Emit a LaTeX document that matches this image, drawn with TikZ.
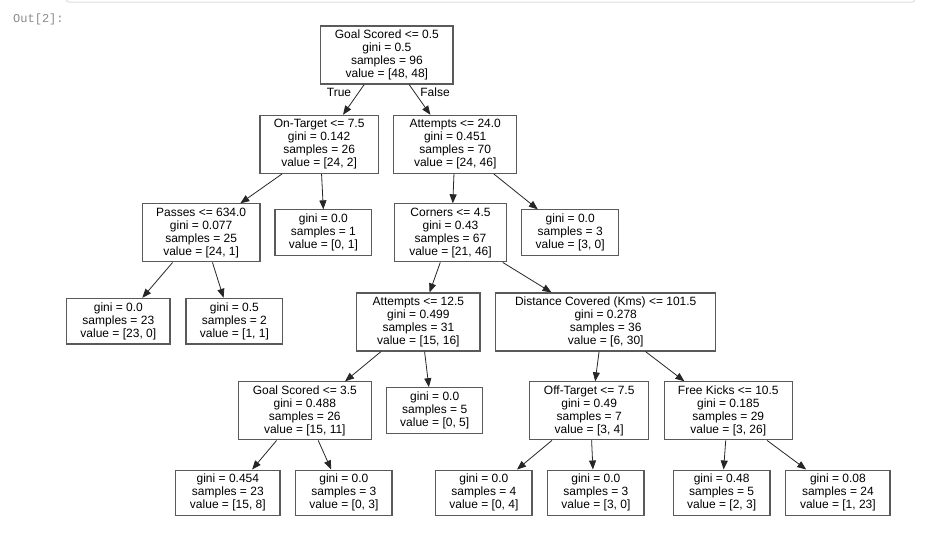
\documentclass[tikz,border=0pt]{standalone}
\usepackage{fontspec}
\setmainfont{Liberation Sans}
\newfontfamily\promptfont{Liberation Mono}
\usetikzlibrary{calc,arrows.meta}
\definecolor{boxgray}{RGB}{90,90,90}
\definecolor{promptgray}{RGB}{140,140,140}
\definecolor{cellgray}{RGB}{222,222,222}
\begin{document}
\begin{tikzpicture}[x=1pt,y=-1pt,
  box/.style={draw=boxgray, line width=1.1pt, inner sep=0pt, align=center,
    font=\fontsize{12}{13}\selectfont, text=black},
  split/.style={box, minimum height=58pt},
  leaf/.style={box, minimum height=45.6pt},
  edge/.style={draw=black!85, line width=0.8pt, -{Triangle[length=9pt,width=7pt]}},
  lab/.style={inner sep=0pt, font=\fontsize{12}{13}\selectfont}]
\useasboundingbox (0,0) rectangle (925,550);
\fill[white] (0,0) rectangle (925,550);
% cell border at the top
\draw[cellgray, line width=1pt, rounded corners=3pt] (66,-20) rectangle (915,2);
\node[anchor=west, inner sep=0pt, text=promptgray, font=\promptfont\fontsize{12}{14}\selectfont] (prompt) at (13,19) {Out[2]:};

% nodes
\node[split, minimum width=132.3pt] (root) at (386.85,55) {Goal Scored <= 0.5\\gini = 0.5\\samples = 96\\value = [48, 48]};
\node[split, minimum width=118.3pt] (ont) at (319.15,144.3) {On-Target <= 7.5\\gini = 0.142\\samples = 26\\value = [24, 2]};
\node[split, minimum width=123pt] (att24) at (455.2,144.3) {Attempts <= 24.0\\gini = 0.451\\samples = 70\\value = [24, 46]};
\node[split, minimum width=117.7pt] (passes) at (201.15,232.85) {Passes <= 634.0\\gini = 0.077\\samples = 25\\value = [24, 1]};
\node[leaf, minimum width=96.7pt] (l1) at (323.35,232.7) {gini = 0.0\\samples = 1\\value = [0, 1]};
\node[split, minimum width=112.4pt] (corners) at (450.5,232.85) {Corners <= 4.5\\gini = 0.43\\samples = 67\\value = [21, 46]};
\node[leaf, minimum width=97pt] (l3a) at (570.2,232.7) {gini = 0.0\\samples = 3\\value = [3, 0]};
\node[leaf, minimum width=103.3pt] (l23) at (118.35,321.15) {gini = 0.0\\samples = 23\\value = [23, 0]};
\node[leaf, minimum width=96.7pt] (l2) at (234.35,321.15) {gini = 0.5\\samples = 2\\value = [1, 1]};
\node[split, minimum width=123.3pt] (att12) at (418.35,322) {Attempts <= 12.5\\gini = 0.499\\samples = 31\\value = [15, 16]};
\node[split, minimum width=220pt] (dist) at (605.7,322) {Distance Covered (Kms) <= 101.5\\gini = 0.278\\samples = 36\\value = [6, 30]};
\node[split, minimum width=133pt] (gs35) at (304.8,410.85) {Goal Scored <= 3.5\\gini = 0.488\\samples = 26\\value = [15, 11]};
\node[leaf, minimum width=96pt] (l5) at (434.7,410.5) {gini = 0.0\\samples = 5\\value = [0, 5]};
\node[split, minimum width=119pt] (off) at (589.2,410.85) {Off-Target <= 7.5\\gini = 0.49\\samples = 7\\value = [3, 4]};
\node[split, minimum width=128pt] (fk) at (728.3,410.85) {Free Kicks <= 10.5\\gini = 0.185\\samples = 29\\value = [3, 26]};
\node[leaf, minimum width=104.3pt] (l454) at (227.85,492.85) {gini = 0.454\\samples = 23\\value = [15, 8]};
\node[leaf, minimum width=96.3pt] (l03) at (343.85,492.85) {gini = 0.0\\samples = 3\\value = [0, 3]};
\node[leaf, minimum width=96.3pt] (l04) at (483.85,492.85) {gini = 0.0\\samples = 4\\value = [0, 4]};
\node[leaf, minimum width=96.3pt] (l30) at (595.85,492.85) {gini = 0.0\\samples = 3\\value = [3, 0]};
\node[leaf, minimum width=96.7pt] (l48) at (721.65,492.85) {gini = 0.48\\samples = 5\\value = [2, 3]};
\node[leaf, minimum width=104.3pt] (l08) at (837.85,492.85) {gini = 0.08\\samples = 24\\value = [1, 23]};

% edge labels
\node[lab] (true) at (339,92.3) {True};
\node[lab] (false) at (435,92.3) {False};

% edges
\newcommand{\edgeit}[4]{\draw[edge] ($(#1.south west)!#2!(#1.south east)$) -- ($(#3.north west)!#4!(#3.north east)$);}
\edgeit{root}{0.33}{ont}{0.70}
\edgeit{root}{0.667}{att24}{0.30}
\edgeit{ont}{0.19}{passes}{0.83}
\edgeit{ont}{0.52}{l1}{0.50}
\edgeit{att24}{0.49}{corners}{0.52}
\edgeit{att24}{0.81}{l3a}{0.17}
\edgeit{passes}{0.26}{l23}{0.73}
\edgeit{passes}{0.595}{l2}{0.39}
\edgeit{corners}{0.41}{att12}{0.59}
\edgeit{corners}{0.96}{dist}{0.255}
\edgeit{att12}{0.20}{gs35}{0.80}
\edgeit{att12}{0.55}{l5}{0.44}
\edgeit{dist}{0.47}{off}{0.55}
\edgeit{dist}{0.68}{fk}{0.16}
\edgeit{gs35}{0.29}{l454}{0.73}
\edgeit{gs35}{0.60}{l03}{0.37}
\edgeit{off}{0.19}{l04}{0.84}
\edgeit{off}{0.52}{l30}{0.47}
\edgeit{fk}{0.48}{l48}{0.52}
\edgeit{fk}{0.80}{l08}{0.20}
\end{tikzpicture}
\end{document}
